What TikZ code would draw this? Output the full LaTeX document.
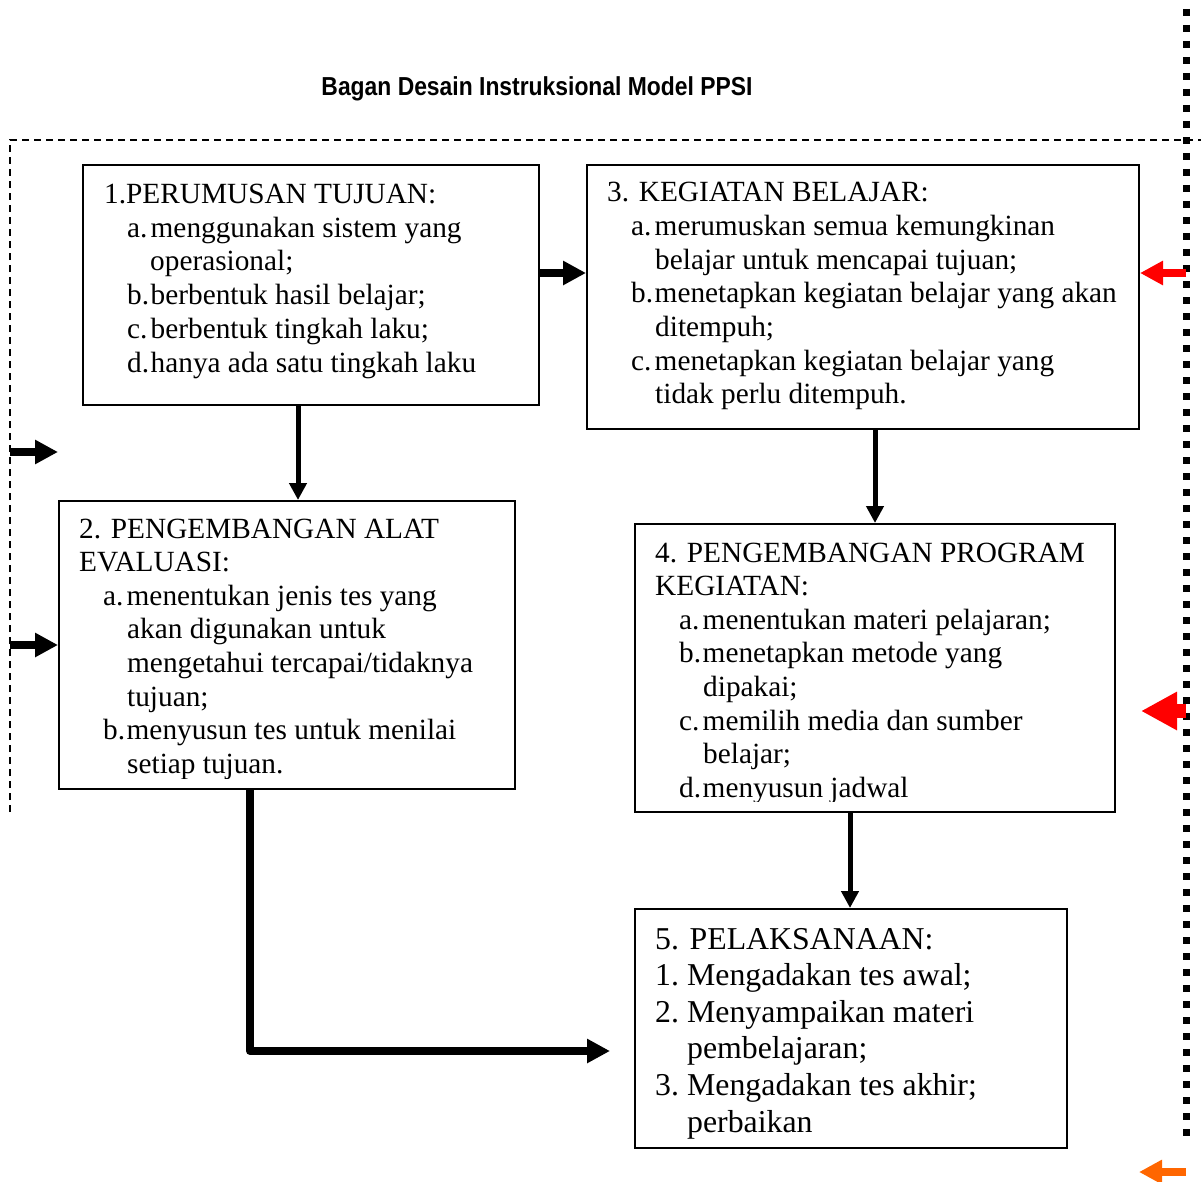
\documentclass[tikz,border=0pt]{standalone}
\usepackage{fontspec}
\setmainfont{Liberation Serif}
\setsansfont{Liberation Sans}
\usetikzlibrary{arrows.meta}
\newcommand{\itm}[2]{\makebox[23.5pt][l]{#1}#2}
\newcommand{\nm}[2]{\makebox[32pt][l]{#1}#2}
\tikzset{
  box/.style={draw, line width=2pt, rectangle, inner sep=0pt},
  txt/.style={anchor=base west, inner sep=0pt, font=\fontsize{29.3}{34}\selectfont},
  txtb/.style={anchor=base west, inner sep=0pt, font=\fontsize{31.8}{37}\selectfont},
  fat/.style={line width=8pt, -{Triangle[length=23pt,width=23pt]}},
  thin/.style={line width=5pt, -{Triangle[length=17pt,width=17pt]}},
  border/.style={line width=2pt, dash pattern=on 7pt off 5pt},
  dots/.style={line width=7pt, dash pattern=on 7pt off 9pt},
}
\begin{document}
\begin{tikzpicture}[x=1pt,y=-1pt]
\useasboundingbox (0,0) rectangle (1201,1182);
% title
\node[inner sep=0pt, font=\sffamily\bfseries\fontsize{26}{30}\selectfont] (title) at (537,89) {\scalebox{0.88}[1]{Bagan Desain Instruksional Model PPSI}};
% outer frame lines
\coordinate (ftl) at (10,140);
\coordinate (ftr) at (1201,140);
\coordinate (fbl) at (10,812);
\draw[border] (fbl) -- (ftl) -- (ftr);
\coordinate (dtop) at (1186,9);
\coordinate (dbot) at (1186,1136);
\draw[dots] (dtop) -- (dbot);
% boxes
\node[box, minimum width=456pt, minimum height=240pt, anchor=north west] (b1) at (82,164) {};
\node[box, minimum width=552pt, minimum height=264pt, anchor=north west] (b3) at (586,164) {};
\node[box, minimum width=456pt, minimum height=288pt, anchor=north west] (b2) at (58,500) {};
\node[box, minimum width=480pt, minimum height=288pt, anchor=north west] (b4) at (634,523) {};
\node[box, minimum width=432pt, minimum height=239pt, anchor=north west] (b5) at (634,908) {};
% box 1 text
\node[txt] (t1a) at (104,203.5) {1.PERUMUSAN TUJUAN:};
\node[txt] (t1b) at (127,237.2) {\itm{a.}{menggunakan sistem yang}};
\node[txt] (t1c) at (150,270.9) {operasional;};
\node[txt] (t1d) at (127,304.6) {\itm{b.}{berbentuk hasil belajar;}};
\node[txt] (t1e) at (127,338.3) {\itm{c.}{berbentuk tingkah laku;}};
\node[txt] (t1f) at (127,372) {\itm{d.}{hanya ada satu tingkah laku}};
% box 3 text
\node[txt] (t3a) at (607,202) {3. KEGIATAN BELAJAR:};
\node[txt] (t3b) at (631,235.6) {\itm{a.}{merumuskan semua kemungkinan}};
\node[txt] (t3c) at (655,269.2) {belajar untuk mencapai tujuan;};
\node[txt] (t3d) at (631,302.8) {\itm{b.}{menetapkan kegiatan belajar yang akan}};
\node[txt] (t3e) at (655,336.4) {ditempuh;};
\node[txt] (t3f) at (631,370) {\itm{c.}{menetapkan kegiatan belajar yang}};
\node[txt] (t3g) at (655,403.6) {tidak perlu ditempuh.};
% box 2 text
\begin{scope}
\clip (58,500) rectangle (514,778);
\node[txt] (t2a) at (79,538) {2. PENGEMBANGAN ALAT};
\node[txt] (t2b) at (79,571.6) {EVALUASI:};
\node[txt] (t2c) at (103,605.2) {\itm{a.}{menentukan jenis tes yang}};
\node[txt] (t2d) at (127,638.8) {akan digunakan untuk};
\node[txt] (t2e) at (127,672.4) {mengetahui tercapai/tidaknya};
\node[txt] (t2f) at (127,706) {tujuan;};
\node[txt] (t2g) at (103,739.6) {\itm{b.}{menyusun tes untuk menilai}};
\node[txt] (t2h) at (127,773.2) {setiap tujuan.};
\end{scope}
% box 4 text
\begin{scope}
\clip (634,523) rectangle (1114,801);
\node[txt] (t4a) at (655,562) {4. PENGEMBANGAN PROGRAM};
\node[txt] (t4b) at (655,595.6) {KEGIATAN:};
\node[txt] (t4c) at (679,629.2) {\itm{a.}{menentukan materi pelajaran;}};
\node[txt] (t4d) at (679,662.8) {\itm{b.}{menetapkan metode yang}};
\node[txt] (t4e) at (703,696.4) {dipakai;};
\node[txt] (t4f) at (679,730) {\itm{c.}{memilih media dan sumber}};
\node[txt] (t4g) at (703,763.6) {belajar;};
\node[txt] (t4h) at (679,797.2) {\itm{d.}{menyusun jadwal}};
\end{scope}
% box 5 text
\node[txtb] (t5a) at (655,949) {5. PELAKSANAAN:};
\node[txtb] (t5b) at (655,985.6) {\nm{1.}{Mengadakan tes awal;}};
\node[txtb] (t5c) at (655,1022.2) {\nm{2.}{Menyampaikan materi}};
\node[txtb] (t5d) at (687,1058.8) {pembelajaran;};
\node[txtb] (t5e) at (655,1095.4) {\nm{3.}{Mengadakan tes akhir;}};
\node[txtb] (t5f) at (687,1132) {perbaikan};
% connectors
\draw[fat] (b1.east |- 0,273) -- (b3.west |- 0,273);
\draw[thin] (b1.south -| 298,0) -- (b2.north -| 298,0);
\draw[thin] (b3.south -| 875,0) -- (b4.north -| 875,0);
\draw[thin] (b4.south -| 850,0) -- (b5.north -| 850,0);
\draw[line width=8pt, line join=round, -{Triangle[length=23pt,width=23pt]}, shorten >=24pt] (b2.south -| 250,0) -- (250,1051) -- (b5.west |- 0,1051);
% left side arrows
\draw[fat] (ftl |- 0,452) -- (58,452) coordinate (la1);
\draw[fat] (ftl |- 0,645) -- (b2.west |- 0,645);
% right side arrows
\draw[fat, red] (dtop |- 0,273) -- (b3.east |- 0,273);
\draw[red, line width=14pt, -{Triangle[length=36pt,width=36pt]}, shorten >=25pt] (dtop |- 0,711) -- (b4.east |- 0,711);
\coordinate (ob) at (1139,1172);
\draw[fat, color={rgb,255:red,255;green,102;blue,0}] (dtop |- 0,1172) -- (ob);
\end{tikzpicture}
\end{document}
